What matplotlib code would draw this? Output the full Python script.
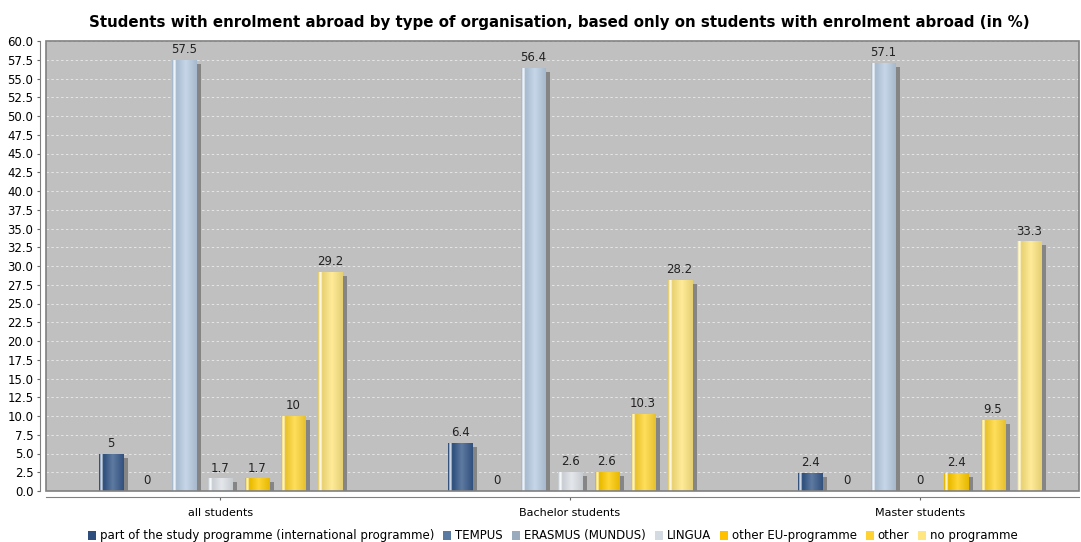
import matplotlib
matplotlib.use("Agg")
import matplotlib.pyplot as plt
import numpy as np
from matplotlib.colors import to_rgb
from matplotlib.patches import Rectangle

categories = ["all students", "Bachelor students", "Master students"]
series = ["part of the study programme (international programme)", "TEMPUS",
          "ERASMUS (MUNDUS)", "LINGUA", "other EU-programme", "other", "no programme"]
values = [
    [5, 6.4, 2.4],
    [0, 0, 0],
    [57.5, 56.4, 57.1],
    [1.7, 2.6, 0],
    [1.7, 2.6, 2.4],
    [10, 10.3, 9.5],
    [29.2, 28.2, 33.3],
]
labels = [
    ["5", "6.4", "2.4"],
    ["0", "0", "0"],
    ["57.5", "56.4", "57.1"],
    ["1.7", "2.6", "0"],
    ["1.7", "2.6", "2.4"],
    ["10", "10.3", "9.5"],
    ["29.2", "28.2", "33.3"],
]
colors = ["#36598a", "#5b7aa1", "#b9cde3", "#dde2e8", "#ffcc00", "#ffd633", "#ffe680"]
legend_colors = ["#2e4f7e", "#5b7aa1", "#9aabbd", "#d3dae2", "#ffc000", "#ffd233", "#ffe680"]

W, H = 1081, 542
fig = plt.figure(figsize=(W/100, H/100), dpi=100)
fig.patch.set_facecolor("white")
ax = fig.add_axes([46/W, 1-491/H, (1079-46)/W, (491-41)/H])
ax.set_facecolor("#c0c0c0")

px = 349.5
x0 = np.arange(len(categories))
step = 36.5/px
bw = 24/px
n = len(series)
XL = (-174/px, 2 + 159/px)

for k, s in ax.spines.items():
    s.set_color("#808080")
    s.set_linewidth(0.8)
ax.spines["left"].set_position(("outward", 4))
ax.spines["bottom"].set_position(("outward", 4))
ax.spines["top"].set_visible(False)
ax.spines["right"].set_visible(False)

ax.set_xlim(*XL)
ax.set_ylim(0, 60)

ytick = np.arange(0, 60.01, 2.5)
ax.set_yticks(ytick)
ax.set_yticklabels([f"{v:.1f}" for v in ytick])
for y in ytick[1:]:
    ax.axhline(y, color="#e6e6e6", lw=0.7, ls=(0, (2.5, 2.5)), zorder=1)

ax.set_xticks(x0)
ax.set_xticklabels(categories)
ax.tick_params(axis="x", length=2, pad=6, color="#666666", labelsize=8)
ax.tick_params(axis="y", length=2, pad=3, color="#666666", labelsize=8.5)

ypp = 60/450
sx, sy = 5/px, 4*ypp

WHITE = np.array([1.0, 1.0, 1.0])
def grad_img(c):
    r = np.array(to_rgb(c))
    t = np.linspace(0, 1, 96)
    cols = []
    for tt in t:
        if tt < 0.05:
            m = r*0.9
        elif tt < 0.14:
            m = r*0.25 + 0.75*WHITE
        elif tt < 0.22:
            m = r*0.92
        elif tt < 0.55:
            f = (tt-0.22)/0.33
            m = r*0.92*(1-f) + (r*0.8 + 0.2*WHITE)*f
        else:
            f = (tt-0.55)/0.45
            m = (r*0.8 + 0.2*WHITE)*(1-f) + r*0.9*f
        cols.append(np.clip(m, 0, 1))
    return np.array(cols)[None, :, :]

for i in range(n):
    for j in range(len(categories)):
        v = values[i][j]
        xl = x0[j] + (i - 3)*step - bw/2
        if v > 0:
            ax.add_patch(Rectangle((xl + sx, 0), bw, max(v - sy, 0), color="#858585", zorder=2, lw=0))
            im = ax.imshow(grad_img(colors[i]), extent=(xl, xl+bw, 0, v), aspect="auto", zorder=3, interpolation="bilinear")
            rect = Rectangle((xl, 0), bw, v, transform=ax.transData, fill=False, lw=0)
            ax.add_patch(rect)
            im.set_clip_path(rect)
        ax.text(xl + bw/2, v + 0.5, labels[i][j], ha="center", va="bottom", fontsize=8.5, color="#222222", zorder=4)

ax.set_xlim(*XL)
ax.set_ylim(0, 60)
ax.add_patch(Rectangle((0, 0), 1, 1, transform=ax.transAxes, fill=False, ec="#808080", lw=1.2, zorder=5, clip_on=False))

fig.text(559/W, 1-22/H, "Students with enrolment abroad by type of organisation, based only on students with enrolment abroad (in %)",
         ha="center", va="center", fontsize=10.8, fontweight="bold")

# manual legend (pixel coordinates)
renderer = fig.canvas.get_renderer()
ly = 535  # center line, px from top
box_w, box_h, gap_box, gap_item = 8, 9, 4, 9
texts = []
widths = []
for s in series:
    t = fig.text(0, 0, s, fontsize=8.5, va="baseline", ha="left")
    widths.append(t.get_window_extent(renderer).width)
    texts.append(t)
total = sum(widths) + len(series)*(box_w + gap_box) + (len(series)-1)*gap_item
xcur = 553 - total/2
for t, w, c in zip(texts, widths, legend_colors):
    fig.patches.append(Rectangle((xcur/W, 1-(ly+box_h/2)/H), box_w/W, box_h/H, transform=fig.transFigure,
                                 facecolor=c, edgecolor="none", figure=fig))
    t.set_position(((xcur + box_w + gap_box)/W, 1-(ly+4)/H))
    xcur += box_w + gap_box + w + gap_item

fig.savefig("out.png", dpi=100)
